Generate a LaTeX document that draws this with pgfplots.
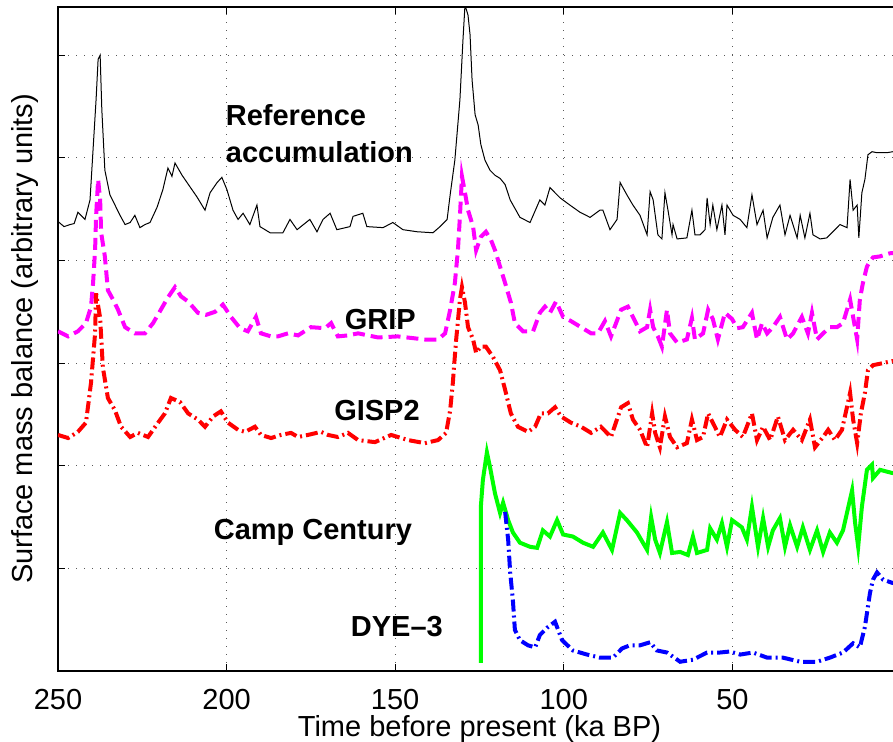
\documentclass[border=0pt]{standalone}
\usepackage{fontspec}
\setmainfont{Liberation Sans}
\usepackage{pgfplots}
\pgfplotsset{compat=1.18}
\definecolor{mgreen}{rgb}{0,1,0}
\definecolor{mmag}{rgb}{1,0,1}
\definecolor{mred}{rgb}{1,0,0}
\definecolor{mblue}{rgb}{0,0,1}
\begin{document}
\begin{tikzpicture}
\useasboundingbox (-29pt,-35.5pt) rectangle (417.5pt,335.5pt);
\begin{axis}[
  at={(0,0)}, anchor=south west,
  scale only axis, width=421.5pt, height=332pt,
  x dir=reverse, xmin=0, xmax=250, ymin=0, ymax=6.47,
  xtick={0,50,100,150,200,250}, ytick={1,2,3,4,5,6}, yticklabels={},
  tick align=inside, major tick length=3.5pt,
  xmajorgrids, ymajorgrids,
  major grid style={black!65, line width=0.5pt, dash pattern=on 0.6pt off 3.4pt},
  axis line style={line width=0.6pt},
  every tick/.style={black, line width=0.6pt},
  tick label style={font=\fontsize{14.5}{17}\selectfont},
  /pgf/number format/assume math mode=true,
  xticklabel style={inner sep=0.5pt, yshift=-8.5pt},
  label style={font=\fontsize{14.5}{17}\selectfont, inner sep=0.5pt},
  xlabel={Time before present (ka BP)},
  ylabel={Surface mass balance (arbitrary units)},
  xlabel style={at={(axis description cs:0.5,-0.087)}, anchor=center},
  ylabel style={at={(axis description cs:-0.0391,0.5)}, anchor=center},
  clip=true,
]
% Reference accumulation
\addplot[black, line width=0.5pt] coordinates {
(250,4.38)(248.2,4.33)(246.4,4.35)(245.2,4.36)(244.1,4.47)(242.0,4.40)(240.5,4.59)(239.6,5.08)(238.7,5.57)(238.1,5.96)(237.5,6.00)(237.0,5.47)(236.1,4.88)(234.6,4.64)(233.1,4.54)(231.6,4.44)(230.1,4.35)(228.6,4.37)(227.2,4.44)(225.7,4.32)(224.2,4.35)(222.7,4.37)(220.6,4.52)(218.9,4.69)(217.4,4.90)(216.2,4.82)(215.3,4.95)(213.2,4.83)(210.9,4.72)(208.8,4.62)(206.4,4.49)(204.9,4.66)(202.8,4.76)(201.4,4.81)(199.9,4.69)(198.1,4.49)(196.6,4.40)(195.1,4.46)(193.1,4.35)(191.0,4.54)(190.1,4.33)(187.1,4.27)(183.3,4.27)(181.2,4.40)(179.1,4.30)(175.3,4.40)(173.2,4.28)(171.4,4.40)(169.3,4.46)(167.3,4.30)(163.4,4.33)(162.5,4.43)(159.6,4.46)(158.4,4.33)(153.6,4.32)(150.7,4.37)(147.7,4.30)(143.5,4.28)(138.8,4.27)(136.7,4.33)(134.6,4.40)(133.7,4.64)(132.3,4.98)(130.8,5.57)(129.9,6.15)(129.3,6.49)(128.4,6.39)(127.8,6.20)(127.2,5.76)(126.3,5.42)(125.4,5.32)(124.6,5.13)(123.4,4.98)(121.9,4.88)(120.4,4.83)(118.9,4.80)(117.4,4.74)(115.9,4.59)(113.0,4.42)(110.0,4.37)(107.1,4.59)(105.6,4.54)(104.1,4.71)(101.1,4.61)(98.2,4.54)(95.2,4.47)(92.2,4.42)(89.3,4.49)(88.4,4.49)(86.3,4.30)(84.2,4.40)(83.3,4.76)(81.3,4.64)(79.5,4.54)(77.4,4.44)(75.3,4.25)(74.4,4.67)(73.5,4.59)(72.1,4.25)(70.9,4.21)(70.0,4.66)(69.1,4.49)(67.9,4.25)(67.6,4.35)(66.4,4.21)(63.5,4.22)(62.0,4.49)(61.1,4.25)(59.6,4.25)(58.1,4.30)(57.5,4.61)(56.6,4.35)(55.8,4.54)(54.6,4.30)(53.1,4.54)(52.2,4.25)(51.6,4.54)(49.8,4.44)(47.7,4.40)(45.7,4.32)(44.2,4.64)(42.7,4.35)(40.9,4.49)(39.7,4.22)(38.0,4.42)(35.9,4.54)(34.4,4.25)(32.9,4.44)(30.8,4.22)(29.9,4.44)(28.5,4.22)(27.0,4.46)(26.1,4.25)(24.0,4.21)(22.0,4.22)(20.2,4.28)(18.1,4.35)(16.0,4.32)(15.1,4.79)(14.2,4.49)(13.0,4.54)(12.5,4.22)(11.6,4.66)(10.7,4.79)(9.8,5.03)(8.6,5.06)(7.1,5.05)(4.2,5.05)(2.4,5.06)(0,5.06)
};
% GRIP
\addplot[mmag, line width=2pt, dash pattern=on 6pt off 3pt] coordinates {
(250,3.31)(247.0,3.26)(244.1,3.31)(241.7,3.39)(240.2,3.55)(239.6,3.78)(239.0,4.10)(238.7,4.43)(238.1,4.79)(237.5,4.59)(237.2,4.27)(236.1,4.04)(235.2,3.71)(233.7,3.62)(232.2,3.52)(230.1,3.35)(227.2,3.29)(224.2,3.29)(221.8,3.39)(219.5,3.52)(217.4,3.64)(215.3,3.74)(213.5,3.65)(211.4,3.60)(208.5,3.49)(206.1,3.47)(203.4,3.50)(201.1,3.57)(198.7,3.45)(196.0,3.34)(193.7,3.31)(191.3,3.45)(189.8,3.29)(186.8,3.26)(184.8,3.26)(181.8,3.29)(178.8,3.27)(175.0,3.35)(170.8,3.34)(169.0,3.39)(167.0,3.26)(164.0,3.27)(161.0,3.29)(155.1,3.25)(149.2,3.26)(141.2,3.23)(137.3,3.23)(135.2,3.29)(133.7,3.52)(132.3,3.78)(131.4,4.10)(130.8,4.43)(130.2,4.82)(129.3,4.66)(128.4,4.49)(126.9,4.33)(126.0,4.10)(124.6,4.23)(123.1,4.28)(121.6,4.20)(120.4,4.10)(118.9,3.94)(117.4,3.78)(115.7,3.59)(114.5,3.39)(112.1,3.31)(109.1,3.31)(107.1,3.49)(105.6,3.55)(104.1,3.49)(102.3,3.60)(100.2,3.45)(97.9,3.41)(94.9,3.35)(91.9,3.29)(89.9,3.29)(87.8,3.41)(86.0,3.26)(83.0,3.52)(81.0,3.55)(79.5,3.45)(77.4,3.31)(75.3,3.35)(74.4,3.52)(73.5,3.35)(72.1,3.26)(70.9,3.16)(69.4,3.52)(68.5,3.29)(66.4,3.20)(63.5,3.23)(62.0,3.44)(61.1,3.23)(58.7,3.29)(57.2,3.52)(55.8,3.43)(54.3,3.23)(52.2,3.49)(50.1,3.43)(48.6,3.34)(46.9,3.35)(44.2,3.49)(42.7,3.23)(41.2,3.39)(39.7,3.29)(38.0,3.35)(35.9,3.45)(33.8,3.23)(32.0,3.29)(29.4,3.45)(27.6,3.29)(26.4,3.49)(24.9,3.23)(23.1,3.29)(21.1,3.35)(19.0,3.35)(17.2,3.39)(15.1,3.62)(14.2,3.45)(13.0,3.23)(12.2,3.62)(11.3,3.78)(10.1,3.94)(9.2,3.99)(8.3,4.03)(6.2,4.04)(3.3,4.07)(0,4.08)
};
% GISP2
\addplot[mred, line width=2pt, dash pattern=on 6pt off 2pt on 1pt off 2pt] coordinates {
(250,2.30)(247.0,2.27)(244.1,2.33)(241.7,2.42)(240.2,2.81)(239.0,3.29)(238.7,3.68)(237.5,3.44)(236.7,2.96)(235.2,2.66)(233.1,2.54)(231.3,2.38)(228.6,2.28)(226.3,2.32)(223.3,2.28)(220.3,2.42)(218.3,2.51)(216.5,2.66)(213.8,2.62)(211.4,2.51)(208.5,2.45)(206.4,2.38)(204.0,2.48)(201.7,2.53)(199.6,2.42)(196.6,2.35)(194.5,2.33)(191.6,2.38)(189.8,2.30)(186.8,2.27)(183.9,2.30)(180.9,2.32)(178.8,2.28)(175.9,2.30)(172.0,2.33)(169.9,2.30)(167.0,2.28)(164.0,2.32)(161.0,2.25)(156.0,2.23)(151.2,2.30)(146.2,2.25)(141.2,2.22)(137.3,2.25)(134.9,2.32)(133.7,2.54)(132.9,2.81)(132.0,3.20)(130.8,3.62)(130.2,3.74)(129.3,3.59)(128.4,3.35)(126.9,3.23)(126.0,3.10)(124.6,3.16)(123.1,3.16)(121.0,3.06)(118.9,2.93)(117.4,2.74)(115.7,2.51)(113.6,2.38)(110.6,2.33)(108.5,2.38)(106.8,2.51)(104.7,2.51)(102.6,2.57)(100.8,2.48)(97.9,2.42)(94.9,2.38)(91.9,2.32)(89.0,2.38)(86.0,2.28)(83.0,2.57)(81.0,2.61)(79.5,2.45)(77.4,2.35)(75.3,2.18)(73.8,2.51)(72.9,2.32)(71.5,2.18)(70.0,2.48)(68.5,2.28)(66.4,2.18)(63.5,2.22)(62.0,2.45)(60.5,2.25)(58.7,2.28)(57.2,2.51)(55.2,2.38)(53.7,2.28)(51.6,2.45)(49.2,2.35)(46.9,2.28)(44.2,2.51)(42.7,2.25)(40.9,2.38)(38.8,2.25)(36.5,2.48)(34.4,2.25)(32.0,2.35)(29.4,2.25)(27.0,2.45)(25.5,2.18)(23.1,2.28)(21.6,2.35)(19.6,2.25)(17.5,2.35)(15.1,2.71)(14.2,2.45)(13.0,2.22)(11.9,2.51)(10.7,2.71)(9.8,2.93)(8.3,2.98)(5.3,3.00)(2.7,3.02)(0,3.02)
};
% Camp Century
\addplot[mgreen, line width=2pt] coordinates {
(124.6,0.08)(124.6,1.60)(124.0,1.86)(122.8,2.13)(121.9,1.99)(120.4,1.73)(118.9,1.54)(118.0,1.64)(116.5,1.47)(115.1,1.35)(113.0,1.25)(110.0,1.21)(107.9,1.20)(106.2,1.37)(104.1,1.31)(102.0,1.47)(100.2,1.33)(97.3,1.31)(94.3,1.25)(91.3,1.21)(88.4,1.35)(85.7,1.18)(83.3,1.54)(81.3,1.47)(78.3,1.35)(75.3,1.18)(74.1,1.50)(72.9,1.28)(71.5,1.15)(69.4,1.45)(67.9,1.15)(65.5,1.16)(63.2,1.13)(61.7,1.31)(60.5,1.15)(57.5,1.18)(56.6,1.39)(54.6,1.28)(53.1,1.44)(51.6,1.21)(50.1,1.47)(47.2,1.40)(45.7,1.28)(44.2,1.60)(42.4,1.21)(40.9,1.49)(39.4,1.21)(38.0,1.37)(35.9,1.49)(34.4,1.21)(32.9,1.42)(30.8,1.21)(29.1,1.40)(27.0,1.18)(24.9,1.37)(23.1,1.16)(21.1,1.35)(19.0,1.25)(17.2,1.37)(14.5,1.76)(13.6,1.44)(12.7,1.21)(11.6,1.60)(10.1,1.96)(8.6,2.01)(8.3,1.88)(6.2,1.96)(2.7,1.93)(0,1.92)
};
% DYE-3
\addplot[mblue, line width=2pt, dash pattern=on 6pt off 2pt on 1pt off 2pt] coordinates {
(117.4,1.55)(116.5,1.28)(115.9,0.96)(115.1,0.69)(114.5,0.40)(113.0,0.30)(110.6,0.25)(108.5,0.23)(107.1,0.35)(105.0,0.42)(102.6,0.48)(100.5,0.30)(97.3,0.20)(93.1,0.16)(89.3,0.13)(85.4,0.13)(82.7,0.22)(80.4,0.25)(77.4,0.25)(74.4,0.28)(72.4,0.20)(69.4,0.18)(65.5,0.09)(61.7,0.11)(57.5,0.18)(53.7,0.18)(50.7,0.19)(47.7,0.16)(43.9,0.18)(39.7,0.13)(35.0,0.13)(29.9,0.09)(24.9,0.09)(21.1,0.13)(17.2,0.18)(14.2,0.27)(12.2,0.23)(10.7,0.43)(9.2,0.76)(8.3,0.89)(7.1,0.96)(5.3,0.89)(2.7,0.86)(0,0.84)
};
\node[anchor=west, align=left, font=\fontsize{14.5}{18.5}\selectfont\bfseries] at (axis cs:202.3,5.24) {Reference\\accumulation};
\node[font=\fontsize{14.5}{17}\selectfont\bfseries] at (axis cs:154.4,3.42) {GRIP};
\node[font=\fontsize{14.5}{17}\selectfont\bfseries] at (axis cs:155.4,2.54) {GISP2};
\node[font=\fontsize{14.5}{17}\selectfont\bfseries] at (axis cs:174.4,1.35) {Camp Century};
\node[font=\fontsize{14.5}{17}\selectfont\bfseries] at (axis cs:149.5,0.43) {DYE--3};
\end{axis}
\end{tikzpicture}
\end{document}
